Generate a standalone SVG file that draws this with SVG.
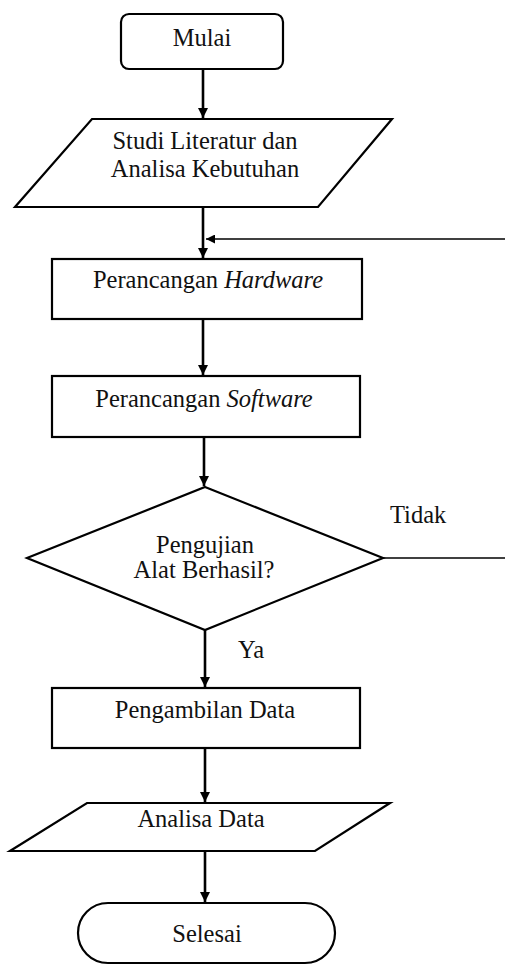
<svg xmlns="http://www.w3.org/2000/svg" width="505" height="965" viewBox="0 0 505 965">
  <style>
    .shape { fill: #ffffff; stroke: #000000; stroke-width: 2.2; stroke-linejoin: miter; }
    text { font-family: "Liberation Serif", "Times New Roman", Times, "DejaVu Serif", serif; font-size: 24.5px; fill: #111111; }
    .label { text-anchor: middle; }
    .flow { fill: none; stroke: #000000; stroke-width: 2.6; }
    .thin { fill: none; stroke: #000000; stroke-width: 1.4; }
  </style>
  <defs>
    <marker id="head" viewBox="0 0 10 10" refX="10" refY="5" markerWidth="10" markerHeight="10" markerUnits="userSpaceOnUse" orient="auto">
      <path d="M0,0 L10,5 L0,10 z" fill="#000000"/>
    </marker>
    <marker id="headSmall" viewBox="0 0 10 10" refX="10" refY="5" markerWidth="9" markerHeight="9" markerUnits="userSpaceOnUse" orient="auto">
      <path d="M0,0 L10,5 L0,10 z" fill="#000000"/>
    </marker>
  </defs>

  <rect width="505" height="965" fill="#ffffff"/>

  <!-- connectors -->
  <g id="connectors">
    <line class="flow" x1="203" y1="69" x2="203" y2="118" marker-end="url(#head)"/>
    <line class="flow" x1="203" y1="207" x2="203" y2="258" marker-end="url(#head)"/>
    <line class="thin" x1="505" y1="239" x2="206" y2="239" marker-end="url(#headSmall)"/>
    <line class="flow" x1="203" y1="319" x2="203" y2="375" marker-end="url(#head)"/>
    <line class="flow" x1="204" y1="437" x2="204" y2="486" marker-end="url(#head)"/>
    <line class="thin" x1="383" y1="558" x2="505" y2="558"/>
    <line class="flow" x1="205" y1="630" x2="205" y2="687" marker-end="url(#head)"/>
    <line class="flow" x1="205" y1="748" x2="205" y2="802" marker-end="url(#head)"/>
    <line class="flow" x1="205" y1="851" x2="205" y2="902" marker-end="url(#head)"/>
    <text x="390" y="523">Tidak</text>
    <text x="238" y="658">Ya</text>
  </g>

  <!-- start -->
  <g id="mulai">
    <rect class="shape" x="121" y="14" width="162" height="55" rx="8"/>
    <text class="label" x="202" y="46">Mulai</text>
  </g>

  <!-- literature study -->
  <g id="studi">
    <polygon class="shape" points="92,119 392,119 318,207 15,207"/>
    <text class="label" x="205" y="149">Studi Literatur dan</text>
    <text class="label" x="205" y="177">Analisa Kebutuhan</text>
  </g>

  <!-- hardware design -->
  <g id="hardware">
    <rect class="shape" x="52" y="259" width="310" height="60"/>
    <text class="label" x="208" y="288">Perancangan <tspan font-style="italic">Hardware</tspan></text>
  </g>

  <!-- software design -->
  <g id="software">
    <rect class="shape" x="52" y="376" width="308" height="61"/>
    <text class="label" x="204" y="407">Perancangan <tspan font-style="italic">Software</tspan></text>
  </g>

  <!-- test decision -->
  <g id="pengujian">
    <polygon class="shape" points="205,487 383,558 205,630 27,558"/>
    <text class="label" x="205" y="553">Pengujian</text>
    <text class="label" x="204" y="578">Alat Berhasil?</text>
  </g>

  <!-- data collection -->
  <g id="pengambilan">
    <rect class="shape" x="52" y="688" width="308" height="60"/>
    <text class="label" x="205" y="718">Pengambilan Data</text>
  </g>

  <!-- data analysis -->
  <g id="analisa">
    <polygon class="shape" points="87,803 390,803 315,851 10,851"/>
    <text class="label" x="201" y="827">Analisa Data</text>
  </g>

  <!-- end -->
  <g id="selesai">
    <rect class="shape" x="78" y="903" width="257" height="60" rx="30"/>
    <text class="label" x="207" y="942">Selesai</text>
  </g>
</svg>
